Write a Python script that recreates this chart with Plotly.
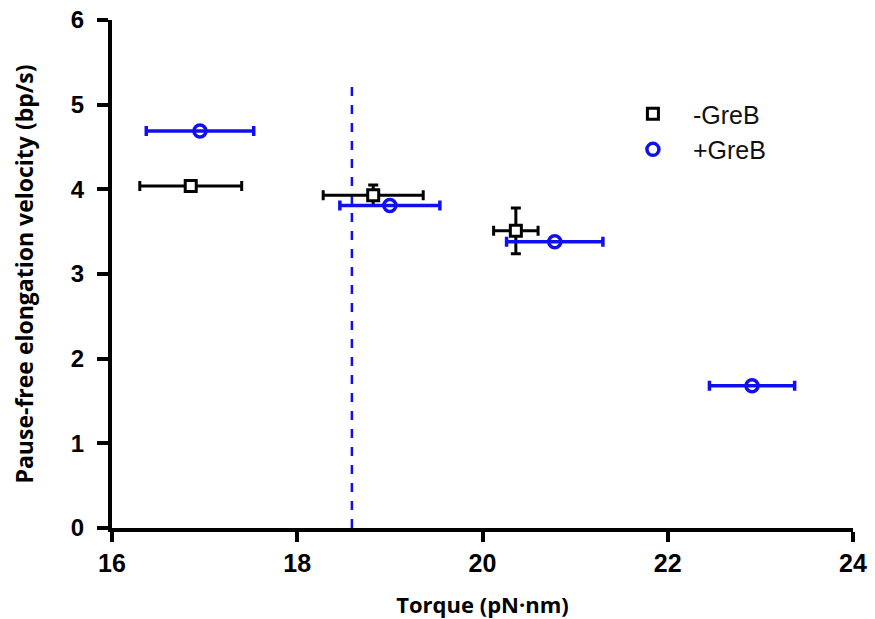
import plotly.graph_objects as go

# -GreB
minus_x = [16.85, 18.82, 20.36]
minus_y = [4.04, 3.93, 3.51]
minus_xerr = [0.55, 0.54, 0.24]
minus_yerr = [0.03, 0.12, 0.27]

# +GreB
plus_x = [16.95, 19.00, 20.78, 22.91]
plus_y = [4.69, 3.81, 3.38, 1.68]
plus_xerr = [0.58, 0.54, 0.52, 0.46]

vline_x = 18.59
vline_top = 5.21

x_ticks = [16, 18, 20, 22, 24]
y_ticks = [0, 1, 2, 3, 4, 5, 6]

FONT = "Liberation Sans, Arial, sans-serif"
TFONT = "Open Sans, sans-serif"
BLUE = "#1010ee"

fig = go.Figure()

fig.add_trace(go.Scatter(
    x=[vline_x, vline_x], y=[0, vline_top], mode="lines",
    line=dict(color=BLUE, width=2.5, dash="dash"),
    showlegend=False, hoverinfo="skip"))

fig.add_trace(go.Scatter(
    x=minus_x, y=minus_y, mode="markers", name="-GreB",
    marker=dict(symbol="square", size=11, color="white", line=dict(width=3, color="black")),
    error_x=dict(type="data", array=minus_xerr, color="black", thickness=3, width=5),
    error_y=dict(type="data", array=minus_yerr, color="black", thickness=3, width=5)))

fig.add_trace(go.Scatter(
    x=plus_x, y=plus_y, mode="markers", name="+GreB",
    marker=dict(symbol="circle-open", size=12, color=BLUE, line=dict(width=3.5, color=BLUE)),
    error_x=dict(type="data", array=plus_xerr, color=BLUE, thickness=3.5, width=5)))

fig.update_layout(
    width=875, height=619,
    margin=dict(l=112, r=22, t=20, b=91),
    paper_bgcolor="white", plot_bgcolor="white",
    font=dict(family=FONT, color="black"),
    legend=dict(x=0.676, y=0.86, xanchor="left", yanchor="top",
                font=dict(size=25, family=FONT, color="#111111"),
                bgcolor="rgba(0,0,0,0)", itemwidth=70, tracegroupgap=0),
    xaxis=dict(range=[16, 24], tickvals=x_ticks, showgrid=False, zeroline=False,
               showline=True, linecolor="black", linewidth=4, automargin=False,
               ticks="outside", ticklen=10, tickwidth=4, tickcolor="black",
               tickfont=dict(size=25, family=FONT, weight=700),
               title=dict(text="Torque (pN·nm)", font=dict(size=22, family=TFONT, weight=700), standoff=23)),
    yaxis=dict(range=[0, 6], tickvals=y_ticks, showgrid=False, zeroline=False,
               showline=True, linecolor="black", linewidth=4, automargin=False,
               ticks="outside", ticklen=11, tickwidth=4, tickcolor="black",
               ticklabelstandoff=8,
               tickfont=dict(size=24, family=FONT, weight=700),
               title=dict(text="Pause-free elongation velocity (bp/s)", font=dict(size=23, family=TFONT, weight=700), standoff=32)),
)

fig.write_html("out.html")
